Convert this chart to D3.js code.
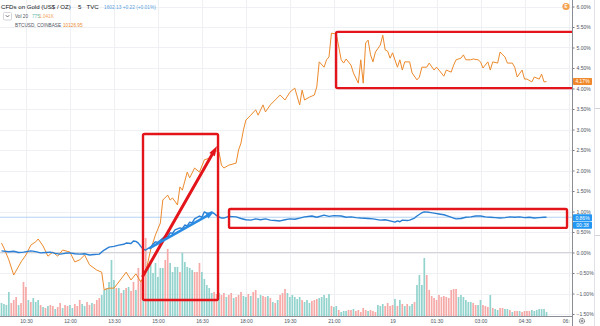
<!DOCTYPE html>
<html>
<head>
<meta charset="utf-8">
<script src="https://cdn.jsdelivr.net/npm/d3@7"></script>
<style>
  html, body { margin: 0; padding: 0; background: #fff; }
  svg { display: block; font-family: "Liberation Sans", Arial, sans-serif; }
</style>
</head>
<body>
<svg id="chart" width="600" height="326"></svg>
<script>
// ---- Time axis: bar numbers of 5-minute bars (session gap removed) ----
const timeTickBars   = [10, 28, 46, 64, 82, 100, 118, 136, 160, 178, 196, 214, 232];
const timeTickLabels = ["10:30", "12:00", "13:30", "15:00", "16:30", "18:00", "19:30", "21:00", "19", "01:30", "03:00", "04:30", "06:00"];

// ---- Percent scale ticks ----
const pctTicks = [-1.5, -1, -0.5, 0, 0.5, 1, 1.5, 2, 2.5, 3, 3.5, 4, 4.5, 5, 5.5, 6];

// ---- Gold CFD, % change (bar number / percent) ----
const goldBar = [0,3,5,7,9,12,14,16,18,20,22,24,26,28,30,32,34,36,38,40,42,44,46,48,50,51,53,54,55,56,57,58,59,60,61,62,63,64,65,67,68,69,70,71,73,74,75,76,77,78,79,81,82,83,84,85,86,87,88,89,90,91,93,96,98,100,102,104,106,108,110,112,114,116,118,120,122,124,127,129,132,134,136,139,141,143,145,147,150,152,155,157,159,161,162,163,164,166,167,169,170,172,173,175,177,179,181,183,185,186,188,190,192,194,196,198,200,202,204,206,208,210,212,214,216,218,220,222,223];
const goldPct = [0.04,0.02,0.03,0.00,0.01,0.04,0.02,-0.01,0.00,0.01,-0.02,-0.04,-0.02,-0.01,-0.03,-0.04,-0.03,-0.06,-0.05,-0.04,0.06,0.13,0.15,0.18,0.20,0.23,0.22,0.28,0.27,0.23,0.15,0.08,0.06,0.10,0.13,0.20,0.26,0.25,0.30,0.40,0.38,0.48,0.47,0.55,0.60,0.58,0.67,0.65,0.74,0.72,0.82,0.89,0.86,0.99,0.96,0.96,0.99,0.95,0.90,0.87,0.84,0.84,0.88,0.87,0.83,0.80,0.79,0.82,0.80,0.82,0.79,0.78,0.77,0.80,0.82,0.81,0.84,0.87,0.89,0.86,0.91,0.88,0.90,0.89,0.86,0.87,0.85,0.84,0.83,0.82,0.79,0.80,0.77,0.74,0.77,0.75,0.79,0.78,0.79,0.84,0.89,0.97,0.99,0.98,0.96,0.94,0.92,0.88,0.84,0.82,0.83,0.86,0.87,0.89,0.89,0.87,0.86,0.85,0.84,0.85,0.87,0.86,0.87,0.85,0.86,0.84,0.85,0.86,0.86];

// ---- BTCUSD (Coinbase), % change (bar number / percent) ----
const btcBar = [0,1,3,5,8,10,12,14,15,17,19,21,23,25,28,30,32,34,36,39,41,42,44,46,48,51,53,55,57,59,61,63,65,66,68,69,70,72,73,74,76,77,79,81,83,85,87,89,90,91,93,96,97,98,99,100,102,104,105,107,108,110,112,114,116,118,120,122,123,124,126,128,129,130,132,133,134,135,137,139,140,141,143,144,146,147,148,149,150,151,152,153,155,156,157,158,159,160,162,163,164,165,167,168,170,171,172,174,175,177,178,179,181,182,184,185,186,188,189,190,192,193,195,196,197,199,200,201,203,204,206,207,209,210,211,213,214,215,217,218,220,221,222,223];
const btcPct = [0.23,0.11,-0.18,-0.55,-0.23,-0.06,0.18,0.26,0.33,0.16,-0.09,0.01,-0.09,0.06,0.01,-0.23,-0.18,-0.06,-0.30,-0.43,-0.48,-0.91,-0.87,-0.87,-0.72,-0.48,-0.67,-0.52,-0.72,-0.48,0.06,0.43,0.72,1.28,1.40,1.28,1.33,1.16,1.60,1.52,1.96,1.82,2.06,1.96,2.26,2.30,2.50,2.45,2.13,2.06,2.13,2.18,2.50,2.67,2.99,3.23,3.35,3.48,3.35,3.60,3.43,3.60,3.72,3.84,3.72,3.91,4.01,3.60,3.96,3.72,3.79,3.84,4.04,4.65,4.52,4.70,4.77,5.35,5.33,4.70,4.62,4.72,4.57,4.38,4.13,4.70,4.13,5.11,5.18,4.82,4.65,4.89,5.06,5.30,4.94,4.91,4.74,4.87,4.52,4.70,4.45,4.65,4.65,4.38,4.21,4.28,4.52,4.52,4.62,4.45,4.52,4.45,4.30,4.45,4.40,4.57,4.70,4.74,4.82,4.70,4.70,4.72,4.70,4.65,4.50,4.65,4.45,4.65,4.62,4.89,4.77,4.62,4.62,4.52,4.28,4.45,4.23,4.23,4.16,4.28,4.23,4.35,4.16,4.17];

// ---- Gold volume per bar (contracts), and bar direction (1 = up, 0 = down) ----
const volume = [
  2470,2280,2090,4560,2470,3040,3610,2090,2470,6460,
  5510,3040,2660,3420,2660,3040,2090,1710,1520,1900,
  2090,1900,1330,1710,2470,1520,2090,1900,2090,1520,
  2280,1900,3040,2280,1900,2660,2090,2470,2280,3040,
  3420,3990,4940,5320,6460,10640,6840,5320,5320,4370,
  4940,5320,5510,4750,6460,4940,9120,6840,4940,14820,
  9310,10640,8170,10070,7410,9120,9120,10640,12730,10070,
  8360,9310,9310,8360,11970,10260,9310,9120,8740,8360,
  8360,10070,8360,7030,5890,5320,4370,4560,4180,4370,
  3990,4370,3610,3990,4370,3420,3610,3990,4560,3800,
  3610,4180,3800,4560,4940,3420,3990,3800,3610,3800,
  3420,2660,2470,3040,3990,4370,5130,4370,3610,3990,
  3610,3230,3610,3040,2660,3040,2470,2850,3040,3230,
  3420,3610,3990,3420,4180,1900,1710,1900,1140,760,
  950,950,1140,1140,1330,950,1140,760,1520,1140,
  950,1140,950,760,2090,1900,2280,1900,2470,1900,
  2090,3230,1900,3040,2280,1900,2280,1900,2280,2660,
  5890,7790,5890,11020,7790,4940,3800,3420,3040,3990,
  3610,3800,3610,3420,4940,5130,5130,3610,3990,3610,
  3040,2660,2660,2470,2090,2090,3040,2090,1900,1710,
  3990,1520,1330,1140,1520,1520,1330,1330,1140,760,
  950,950,950,760,950,950,950,1140,950,1140,
  1330,1330,1330,775
];
const volUp = [
  1,1,1,1,0,0,0,1,0,0, 0,1,0,1,1,1,0,1,0,1, 0,0,1,0,0,1,0,0,1,1, 0,0,0,1,1,0,0,1,0,0,
  0,1,1,1,1,1,1,0,1,0, 1,0,1,0,0,1,0,0,1,0, 1,1,1,1,1,1,1,0,0,1, 1,1,1,0,1,1,1,1,1,0,
  0,0,1,1,1,1,1,0,0,1, 0,0,1,0,0,1,0,0,0,1, 1,0,1,0,0,1,1,0,0,1, 0,1,0,1,0,0,0,1,1,1,
  1,1,1,0,1,1,1,0,0,0, 1,1,1,1,1,0,1,1,0,1, 1,1,0,0,1,0,0,0,0,0, 1,0,0,0,1,1,1,0,0,0,
  0,1,0,1,0,1,0,1,1,0, 1,1,1,1,0,0,0,0,0,0, 0,0,0,0,0,0,0,1,1,1, 1,1,1,0,0,1,1,0,0,0,
  1,0,1,1,0,0,1,1,0,1, 0,0,1,0,0,0,0,1,1,1, 1,1,1,1
];

// ---- Last values shown on the scale and in the legend ----
const goldLast = 0.86, btcLast = 4.17;
const countdown = "00:38";

// ---- Highlight drawings in chart coordinates: [bar0, bar1, pctTop, pctBottom] ----
const highlightBoxes = [
  [57.9, 88.6, 2.89, -1.16],
  [93.1, 231.4, 1.06, 0.60],
  [136.9, 234.6, 5.38, 4.01]
];
// arrows: [barFrom, pctFrom, barTo, pctTo]
const redArrow  = [57.9, -0.57, 88.2, 2.60];
const blueArrow = [60.8, 0.11, 86.9, 0.99];

// ---------------------------------------------------------------------
const svg = d3.select("#chart");
const plotRight = 572, plotBottom = 316;

const x = d3.scaleLinear().domain([0, 232]).range([1.5, 568.5]);
const y = d3.scaleLinear().domain([-1.5, 6]).range([314, 6.5]);
const yVol = d3.scaleLinear().domain([0, 15000]).range([plotBottom, 237]);

const GOLD = "#2a7fd4", BTC = "#ec8a2c";
const UPV = "#93d3cd", DNV = "#f6aaa8";

const defs = svg.append("defs");
defs.append("clipPath").attr("id", "plotClip")
  .append("rect").attr("x", 0).attr("y", 0).attr("width", plotRight).attr("height", plotBottom);
defs.append("clipPath").attr("id", "timeClip")
  .append("rect").attr("x", 0).attr("y", plotBottom).attr("width", 570).attr("height", 10);

const plot = svg.append("g").attr("clip-path", "url(#plotClip)");

// grid
plot.append("g").selectAll("line").data(pctTicks).join("line")
  .attr("x1", 0).attr("x2", plotRight)
  .attr("y1", d => Math.round(y(d)) + 0.5).attr("y2", d => Math.round(y(d)) + 0.5)
  .attr("stroke", "#eef0f4").attr("stroke-width", 1);
plot.append("g").selectAll("line").data(timeTickBars).join("line")
  .attr("x1", d => Math.round(x(d)) + 0.5).attr("x2", d => Math.round(x(d)) + 0.5)
  .attr("y1", 0).attr("y2", plotBottom)
  .attr("stroke", "#eef0f4").attr("stroke-width", 1);

// zero line and last-price line
plot.append("line").attr("x1", 0).attr("x2", plotRight)
  .attr("y1", y(0)).attr("y2", y(0)).attr("stroke", "#d4d4d8").attr("stroke-width", 1.2);
plot.append("line").attr("x1", 0).attr("x2", plotRight)
  .attr("y1", y(goldLast)).attr("y2", y(goldLast)).attr("stroke", "#b3d3f2").attr("stroke-width", 1);

// volume bars
plot.append("g").selectAll("rect").data(volume).join("rect")
  .attr("x", (d, i) => x(i) - 0.85)
  .attr("width", 1.7)
  .attr("y", d => yVol(d))
  .attr("height", d => plotBottom - yVol(d))
  .attr("fill", (d, i) => volUp[i] ? UPV : DNV);

// lines
const line = d3.line().x(d => x(d[0])).y(d => y(d[1]));
plot.append("path").datum(btcBar.map((b, i) => [b, btcPct[i]]))
  .attr("d", line).attr("fill", "none").attr("stroke", BTC).attr("stroke-width", 1)
  .attr("stroke-linejoin", "round");
plot.append("path").datum(goldBar.map((b, i) => [b, goldPct[i]]))
  .attr("d", line).attr("fill", "none").attr("stroke", GOLD).attr("stroke-width", 1.4)
  .attr("stroke-linejoin", "round");

// highlight boxes
plot.append("g").selectAll("rect").data(highlightBoxes).join("rect")
  .attr("x", d => x(d[0])).attr("y", d => y(d[2]))
  .attr("width", d => x(d[1]) - x(d[0])).attr("height", d => y(d[3]) - y(d[2]))
  .attr("rx", 1.5).attr("fill", "none").attr("stroke", "#e3151a").attr("stroke-width", 2.4);

// arrows
function arrow(a, color, w, headLen, headHalf) {
  const x0 = x(a[0]), y0 = y(a[1]), x1 = x(a[2]), y1 = y(a[3]);
  const dx = x1 - x0, dy = y1 - y0, len = Math.hypot(dx, dy);
  const ux = dx / len, uy = dy / len;
  const bx = x1 - ux * headLen, by = y1 - uy * headLen;
  plot.append("line").attr("x1", x0).attr("y1", y0).attr("x2", bx).attr("y2", by)
    .attr("stroke", color).attr("stroke-width", w).attr("stroke-linecap", "round");
  plot.append("path")
    .attr("d", `M${x1},${y1}L${bx - uy * headHalf},${by + ux * headHalf}L${bx + uy * headHalf},${by - ux * headHalf}Z`)
    .attr("fill", color);
}
arrow(redArrow, "#e3151a", 3, 10, 3.2);
arrow(blueArrow, "#2a8be2", 2.6, 8, 3);

// ---- axes ----
const yAxis = d3.axisRight(y).tickValues(pctTicks).tickSize(2.5).tickSizeOuter(0).tickPadding(2)
  .tickFormat(d => (d < 0 ? "\u2212" : "") + Math.abs(d).toFixed(2) + "%");
const gy = svg.append("g").attr("transform", `translate(${plotRight},0)`).call(yAxis);
gy.select(".domain").remove();
gy.selectAll("line").attr("stroke", "#787b86");
gy.selectAll("text").attr("font-size", 5).attr("fill", "#4c525e").attr("font-family", "Liberation Sans, Arial, sans-serif");

svg.append("line").attr("x1", plotRight + 0.5).attr("x2", plotRight + 0.5).attr("y1", 0).attr("y2", 326)
  .attr("stroke", "#8a8d96").attr("stroke-width", 1);
svg.append("line").attr("x1", 0).attr("x2", plotRight).attr("y1", plotBottom + 0.5).attr("y2", plotBottom + 0.5)
  .attr("stroke", "#8a8d96").attr("stroke-width", 1);
svg.append("line").attr("x1", 594.5).attr("x2", 594.5).attr("y1", 0).attr("y2", 326)
  .attr("stroke", "#dfe1e6").attr("stroke-width", 1);
[108, 235].forEach(v => svg.append("line").attr("x1", 595).attr("x2", 600).attr("y1", v + 0.5).attr("y2", v + 0.5)
  .attr("stroke", "#cfd2d8"));

const xAxis = d3.axisBottom(x).tickValues(timeTickBars).tickSize(0).tickPadding(3.3)
  .tickFormat((d, i) => timeTickLabels[i]);
const gx = svg.append("g").attr("clip-path", "url(#timeClip)")
  .append("g").attr("transform", `translate(0,${plotBottom})`).call(xAxis);
gx.select(".domain").remove();
gx.selectAll("text").attr("font-size", 5).attr("fill", "#4c525e").attr("font-family", "Liberation Sans, Arial, sans-serif");

// ---- last-value tags on the price scale ----
function tag(yc, label, fill) {
  svg.append("rect").attr("x", plotRight + 1).attr("y", yc - 3.5).attr("width", 19).attr("height", 7)
    .attr("rx", 0.8).attr("fill", fill);
  svg.append("text").attr("x", plotRight + 10.5).attr("y", yc + 1.8).attr("text-anchor", "middle")
    .attr("font-size", 5).attr("fill", "#fff").text(label);
}
tag(y(btcLast), btcLast.toFixed(2) + "%", "#f0892b");
tag(y(goldLast) + 0.6, goldLast.toFixed(2) + "%", "#2196f3");
tag(y(goldLast) + 8, countdown, "#2196f3");

// ---- corner glyphs ----
svg.append("circle").attr("cx", 566).attr("cy", 6.5).attr("r", 3.6).attr("fill", "#f5a04a");
svg.append("text").attr("x", 566).attr("y", 8.3).attr("text-anchor", "middle").attr("font-size", 4.6)
  .attr("font-weight", "bold").attr("fill", "#fff").text("E");
const gear = svg.append("g").attr("transform", "translate(582,321)");
gear.append("circle").attr("r", 2.6).attr("fill", "none").attr("stroke", "#50535e").attr("stroke-width", 1)
  .attr("stroke-dasharray", "1.1 0.6");
gear.append("circle").attr("r", 1).attr("fill", "none").attr("stroke", "#50535e").attr("stroke-width", 0.7);

// ---- legend ----
const lg = svg.append("g").attr("font-family", "Liberation Sans, Arial, sans-serif");
lg.append("text").attr("x", 1).attr("y", 9).attr("font-size", 6.1).attr("fill", "#131722")
  .text("CFDs on Gold (US$ / OZ)");
lg.append("text").attr("x", 78).attr("y", 9).attr("font-size", 6.1).attr("fill", "#131722").text("5");
lg.append("text").attr("x", 86.5).attr("y", 9).attr("font-size", 6.1).attr("fill", "#131722").text("TVC");
lg.append("text").attr("x", 104).attr("y", 8.8).attr("font-size", 4.8).attr("fill", "#5b9fe0")
  .text("1602.13 +0.22 (+0.01%)");

lg.append("rect").attr("x", 3.5).attr("y", 12.5).attr("width", 8).attr("height", 7.5).attr("rx", 1)
  .attr("fill", "#fff").attr("stroke", "#c9ccd3").attr("stroke-width", 0.8);
lg.append("path").attr("d", "M5.8,15.2L7.5,17L9.2,15.2").attr("fill", "none").attr("stroke", "#50535e").attr("stroke-width", 0.8);
lg.append("text").attr("x", 15).attr("y", 17.8).attr("font-size", 4.7).attr("fill", "#50535e").text("Vol 20");
lg.append("text").attr("x", 32).attr("y", 17.8).attr("font-size", 4.7).attr("fill", "#5fb7ad").text("775");
lg.append("text").attr("x", 39).attr("y", 17.8).attr("font-size", 4.7).attr("fill", "#f2a35c").text("1.041K");

lg.append("text").attr("x", 15).attr("y", 27).attr("font-size", 4.7).attr("fill", "#50535e").text("BTCUSD, COINBASE");
lg.append("text").attr("x", 63).attr("y", 27).attr("font-size", 4.7).attr("fill", "#ec8a2c").text("10126.95");
</script>
</body>
</html>
